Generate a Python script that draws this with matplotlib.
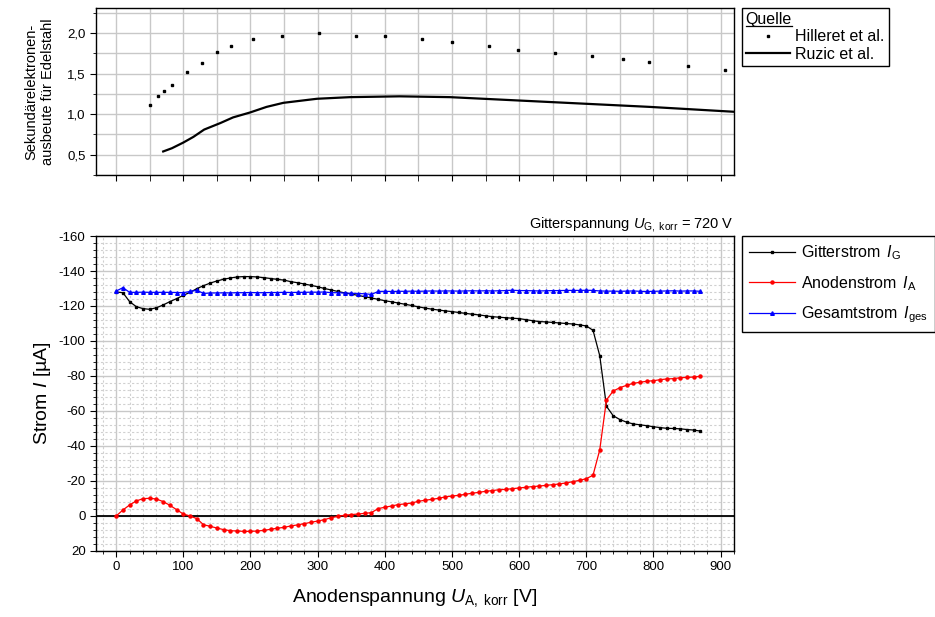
import matplotlib
matplotlib.use("Agg")
import matplotlib.pyplot as plt
from matplotlib.ticker import MultipleLocator, FuncFormatter
from matplotlib.lines import Line2D

plt.rcParams['font.family'] = ['Liberation Sans', 'DejaVu Sans']
plt.rcParams['axes.unicode_minus'] = False
plt.rcParams['mathtext.fontset'] = 'custom'
plt.rcParams['mathtext.rm'] = 'Liberation Sans'
plt.rcParams['mathtext.it'] = 'Liberation Sans:italic'

# --- Sekundärelektronenausbeute (oben) ---
hilleret_u = [50, 62, 71, 83, 105, 128, 150, 171, 204, 247, 302, 357, 400, 455, 500,
              555, 598, 653, 708, 754, 794, 852, 907]
hilleret_y = [1.11, 1.22, 1.28, 1.36, 1.52, 1.63, 1.77, 1.84, 1.93, 1.96, 2.00, 1.96, 1.96,
              1.93, 1.89, 1.84, 1.79, 1.76, 1.72, 1.68, 1.64, 1.60, 1.54]
ruzic_u = [70, 83, 100, 115, 131, 155, 174, 199, 224, 249, 299, 348, 422, 497, 596, 695, 794, 919]
ruzic_y = [0.54, 0.58, 0.65, 0.72, 0.81, 0.89, 0.96, 1.02, 1.09, 1.14, 1.19, 1.21, 1.22,
           1.21, 1.17, 1.13, 1.09, 1.03]

# --- Ströme (unten) ---
u_a = list(range(0, 880, 10))
i_g = [-128.0, -127.6, -122.5, -119.6, -118.5, -118.1, -119.0, -120.6, -122.5, -124.2,
       -126.1, -127.8, -129.9, -131.6, -133.1, -134.3, -135.3, -136.0, -136.6, -136.8,
       -136.8, -136.6, -136.2, -135.7, -135.2, -134.8, -133.9, -133.3, -132.6, -131.8,
       -131.0, -130.0, -129.2, -128.3, -127.5, -126.8, -126.1, -125.3, -124.6, -123.8,
       -123.0, -122.4, -121.7, -121.0, -120.3, -119.5, -118.8, -118.2, -117.7, -117.2,
       -116.8, -116.3, -115.8, -115.3, -114.9, -114.4, -113.9, -113.6, -113.3, -113.0,
       -112.8, -112.2, -111.6, -111.1, -110.9, -110.6, -110.3, -110.0, -109.7, -109.2,
       -108.6, -106.1, -91.6, -62.7, -57.3, -55.1, -53.6, -52.6, -52.1, -51.6,
       -51.0, -50.5, -50.1, -50.0, -49.8, -49.4, -49.1, -48.5]
i_a = [0.0, -3.4, -6.3, -8.6, -9.9, -10.1, -9.7, -8.2, -6.1, -3.6,
       -1.1, 0.0, 1.5, 5.0, 5.9, 6.9, 7.8, 8.4, 8.6, 8.8,
       8.8, 8.6, 8.2, 7.6, 7.0, 6.5, 5.7, 5.1, 4.4, 3.6,
       2.9, 2.1, 1.0, 0.2, -0.4, -0.8, -1.1, -1.5, -1.9, -4.2,
       -5.0, -5.7, -6.5, -6.9, -7.4, -8.4, -9.0, -9.5, -10.1, -10.9,
       -11.4, -11.8, -12.4, -13.0, -13.5, -14.1, -14.5, -15.0, -15.2, -15.6,
       -16.0, -16.4, -16.8, -17.1, -17.5, -17.9, -18.3, -18.9, -19.6, -20.4,
       -21.3, -23.3, -37.8, -66.3, -71.4, -73.3, -74.7, -75.8, -76.4, -77.0,
       -77.3, -77.9, -78.3, -78.5, -79.0, -79.2, -79.4, -79.8]
i_ges = [-128.5, -130.5, -127.8, -127.8, -127.9, -127.8, -127.8, -127.8, -127.8, -127.7,
         -127.6, -128.3, -129.0, -127.2, -127.4, -127.5, -127.5, -127.5, -127.6, -127.6,
         -127.7, -127.6, -127.6, -127.7, -127.7, -127.8, -127.7, -127.8, -127.8, -127.9,
         -127.9, -128.0, -127.6, -127.6, -127.4, -127.3, -127.1, -127.0, -126.6, -128.3,
         -128.4, -128.3, -128.4, -128.4, -128.5, -128.4, -128.5, -128.6, -128.5, -128.6,
         -128.6, -128.5, -128.6, -128.7, -128.6, -128.7, -128.6, -128.7, -128.8, -129.0,
         -128.8, -128.8, -128.7, -128.6, -128.7, -128.8, -128.8, -128.9, -128.9, -128.9,
         -129.0, -128.9, -128.6, -128.5, -128.5, -128.4, -128.5, -128.6, -128.4, -128.3,
         -128.4, -128.5, -128.6, -128.7, -128.5, -128.6, -128.6, -128.4]

fig = plt.figure(figsize=(9.35, 6.17), dpi=100)
ax1 = fig.add_axes([0.1027, 0.7164, 0.6824, 0.2707])
ax2 = fig.add_axes([0.1027, 0.107, 0.6824, 0.5105])

grid_major = dict(color="#c8c8c8", linewidth=1.0, linestyle="-")
grid_minor = dict(color="#d0d0d0", linewidth=0.8, linestyle=(0, (2, 2)))

# oben
ax1.plot(hilleret_u, hilleret_y, linestyle="none", marker="s", markersize=2.1,
         color="black", label="Hilleret et al.")
ax1.plot(ruzic_u, ruzic_y, color="black", linewidth=1.6, label="Ruzic et al.")
ax1.set_xlim(-30, 920)
ax1.set_ylim(0.25, 2.31)
ax1.xaxis.set_major_locator(MultipleLocator(100))
ax1.xaxis.set_minor_locator(MultipleLocator(50))
ax1.yaxis.set_major_locator(MultipleLocator(0.5))
ax1.yaxis.set_minor_locator(MultipleLocator(0.25))
ax1.yaxis.set_major_formatter(FuncFormatter(lambda v, p: f"{v:.1f}".replace(".", ",")))
ax1.tick_params(axis="x", which="both", labelbottom=False, direction="out", length=4)
ax1.tick_params(axis="y", which="major", direction="out", length=4, labelsize=9.5)
ax1.tick_params(axis="y", which="minor", direction="out", length=2)
ax1.grid(True, which="major", **grid_major)
ax1.grid(True, which="minor", color="#c8c8c8", linewidth=1.0)
ax1.set_axisbelow(True)
ax1.set_ylabel("Sekundärelektronen-\nausbeute für Edelstahl", fontsize=10.5, labelpad=9,
               linespacing=1.25)

leg1 = ax1.legend(loc="upper left", bbox_to_anchor=(1.012, 1.0), title="Quelle",
                  alignment="left", fontsize=11.5, title_fontsize=11.5, frameon=True,
                  fancybox=False, edgecolor="black", framealpha=1, borderaxespad=0,
                  handlelength=2.8, handletextpad=0.3, borderpad=0.25, labelspacing=0.15)
leg1.get_frame().set_linewidth(1.0)

# unten
ax2.plot(u_a, i_g, color="black", linewidth=0.9, marker="s", markersize=1.8,
         label=r"Gitterstrom $\,I_{\mathrm{G}}$")
ax2.plot(u_a, i_a, color="red", linewidth=0.9, marker="o", markersize=2.2,
         label=r"Anodenstrom $\,I_{\mathrm{A}}$")
ax2.plot(u_a, i_ges, color="blue", linewidth=0.9, marker="^", markersize=2.6,
         label=r"Gesamtstrom $\,I_{\mathrm{ges}}$")
ax2.axhline(0, color="black", linewidth=1.3, zorder=1.5)
ax2.set_xlim(-30, 920)
ax2.set_ylim(20, -160)
ax2.xaxis.set_major_locator(MultipleLocator(100))
ax2.xaxis.set_minor_locator(MultipleLocator(20))
ax2.yaxis.set_major_locator(MultipleLocator(20))
ax2.yaxis.set_minor_locator(MultipleLocator(4))
ax2.tick_params(axis="both", which="major", direction="out", length=4, labelsize=9.5)
ax2.tick_params(axis="both", which="minor", direction="out", length=2.5)
ax2.grid(True, which="major", **grid_major)
ax2.grid(True, which="minor", **grid_minor)
ax2.set_axisbelow(True)
ax2.set_xlabel(r"Anodenspannung $U_{\mathrm{A,\ korr}}$ [V]", fontsize=14, labelpad=10)
ax2.set_ylabel(r"Strom $I$ [µA]", fontsize=14, labelpad=4)
ax2.set_title(r"Gitterspannung $U_{\mathrm{G,\ korr}}$ = 720 V", loc="right",
              fontsize=10.5, pad=6)

leg2 = ax2.legend(loc="upper left", bbox_to_anchor=(1.012, 1.0), fontsize=11.5,
                  frameon=True, fancybox=False, edgecolor="black", framealpha=1,
                  borderaxespad=0, handlelength=2.9, handletextpad=0.35,
                  labelspacing=0.75, borderpad=0.45)
leg2.get_frame().set_linewidth(1.0)

for ax in (ax1, ax2):
    for s in ax.spines.values():
        s.set_linewidth(1.0)

# Unterstreichung des Legendentitels
fig.canvas.draw()
bb = leg1.get_title().get_window_extent()
inv = fig.transFigure.inverted()
(x0, y0), (x1, _) = inv.transform([(bb.x0, bb.y0 + 1), (bb.x1, bb.y0 + 1)])
fig.add_artist(Line2D([x0, x1], [y0, y0], color="black", linewidth=0.9,
                      transform=fig.transFigure))

fig.savefig("out.png", dpi=100)
